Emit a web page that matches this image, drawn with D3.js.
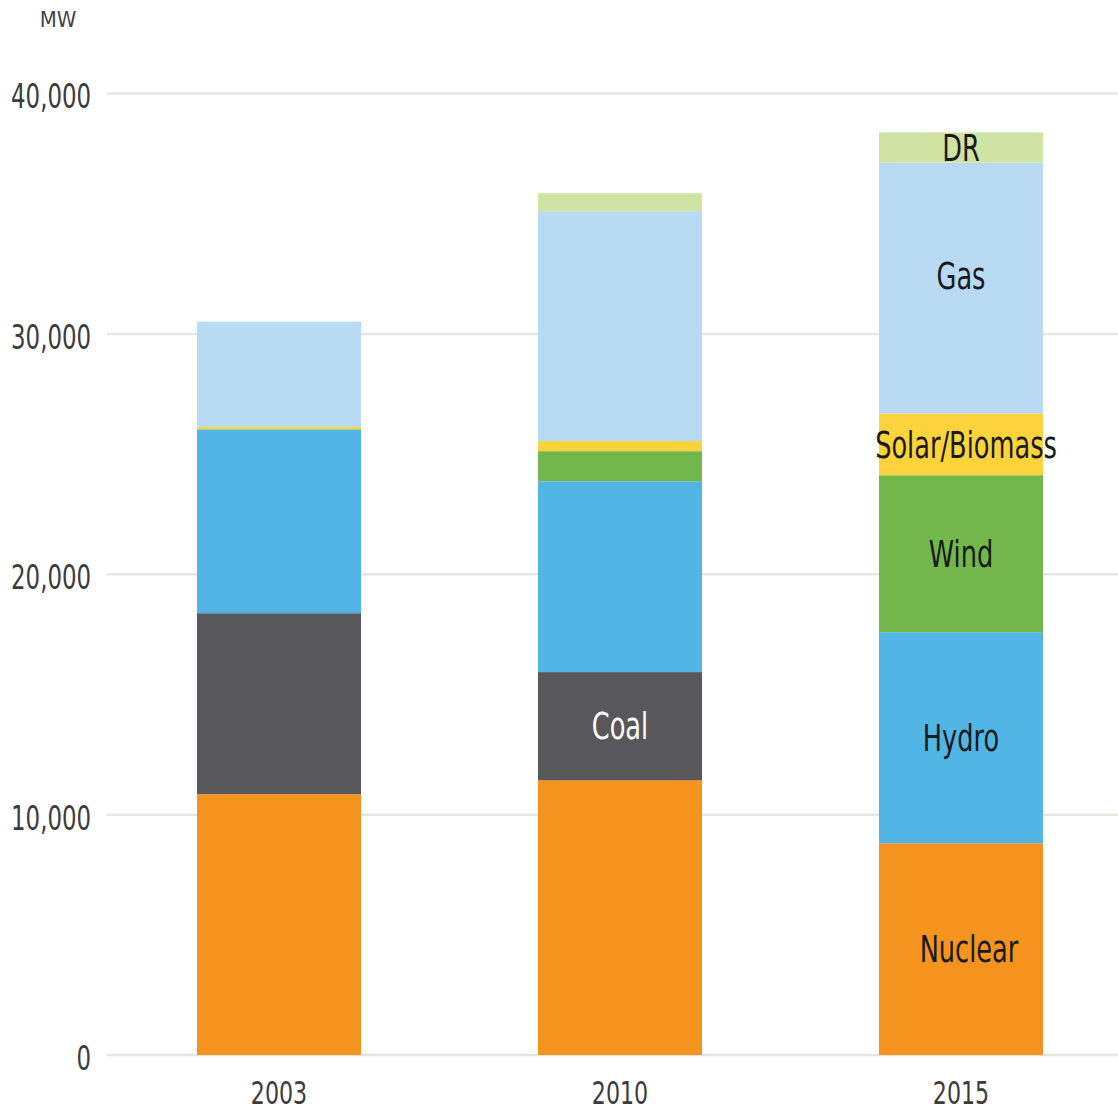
<!DOCTYPE html>
<html>
<head>
<meta charset="utf-8">
<script src="https://cdn.jsdelivr.net/npm/d3@7"></script>
<style>
  html, body { margin: 0; padding: 0; background: #fff; }
  svg { display: block; }
  text { font-family: "DejaVu Sans Condensed", "Liberation Sans Narrow", "Roboto", sans-serif; }
</style>
</head>
<body>
<svg id="chart" width="1118" height="1111"></svg>
<script>
// Installed capacity by source, MW
const years = ["2003", "2010", "2015"];
const sources = ["Nuclear", "Coal", "Hydro", "Wind", "Solar/Biomass", "Gas", "DR"];
const nuclear = [10850, 11430, 8810];
const coal    = [7530, 4500, 0];
const hydro   = [7650, 7940, 8780];
const wind    = [0, 1250, 6530];
const solar   = [100, 420, 2570];
const gas     = [4380, 9560, 10440];
const dr      = [0, 750, 1250];
const yTicks  = [0, 10000, 20000, 30000, 40000];
const unitLabel = "MW";

const colors = {
  "Nuclear": "#f5931f",
  "Coal": "#58585a",
  "Hydro": "#51b5e6",
  "Wind": "#72b74b",
  "Solar/Biomass": "#fdd33b",
  "Gas": "#b8daf2",
  "DR": "#cfe3a2"
};

const seriesValues = [nuclear, coal, hydro, wind, solar, gas, dr];
const table = years.map((yr, i) => {
  const row = { year: yr };
  sources.forEach((s, k) => { row[s] = seriesValues[k][i]; });
  return row;
});

// narrow the glyphs horizontally to get a condensed face
const SX = 0.77;

const svg = d3.select("#chart");

const x = d3.scaleBand()
  .domain(years)
  .range([108, 1132])
  .paddingInner(0.519)
  .paddingOuter(0.261);

const y = d3.scaleLinear()
  .domain([0, 40000])
  .range([1055, 93.5]);

// gridlines
svg.append("g")
  .selectAll("line")
  .data(yTicks)
  .join("line")
  .attr("x1", 107).attr("x2", 1118)
  .attr("y1", d => y(d)).attr("y2", d => y(d))
  .attr("stroke", "#e6e6e0")
  .attr("stroke-width", 2.5);

// y tick labels
svg.append("g")
  .selectAll("text")
  .data(yTicks)
  .join("text")
  .attr("transform", d => `translate(91,${y(d) + 3}) scale(${SX},1)`)
  .attr("dy", "0.36em")
  .attr("text-anchor", "end")
  .attr("font-size", 33)
  .attr("fill", "#3c3c3c")
  .text(d => d3.format(",")(d));

svg.append("text")
  .attr("transform", "translate(58,27)")
  .attr("text-anchor", "middle")
  .attr("font-size", 22)
  .attr("fill", "#444")
  .text(unitLabel);

// stacked bars
const stacked = d3.stack().keys(sources)(table);

const layers = svg.append("g")
  .selectAll("g")
  .data(stacked)
  .join("g")
  .attr("fill", d => colors[d.key]);

layers.selectAll("rect")
  .data(d => d.map(p => ({ key: d.key, y0: p[0], y1: p[1], year: p.data.year })))
  .join("rect")
  .attr("x", d => x(d.year))
  .attr("width", x.bandwidth())
  .attr("y", d => y(d.y1))
  .attr("height", d => Math.max(0, y(d.y0) - y(d.y1)));

// x axis labels
svg.append("g")
  .selectAll("text")
  .data(years)
  .join("text")
  .attr("transform", d => `translate(${x(d) + x.bandwidth() / 2},1092) scale(${SX},1)`)
  .attr("dy", "0.36em")
  .attr("text-anchor", "middle")
  .attr("font-size", 32)
  .attr("fill", "#3c3c3c")
  .text(d => d);

// segment labels
const segLabels = [
  { year: "2010", key: "Coal", color: "#ffffff" },
  { year: "2015", key: "Nuclear", color: "#1a1a1a", dx: 8 },
  { year: "2015", key: "Hydro", color: "#1a1a1a" },
  { year: "2015", key: "Wind", color: "#1a1a1a" },
  { year: "2015", key: "Solar/Biomass", color: "#1a1a1a", dx: 5 },
  { year: "2015", key: "Gas", color: "#1a1a1a", dy: -12 },
  { year: "2015", key: "DR", color: "#1a1a1a" }
];

function labelY(d) {
  const layer = stacked.find(s => s.key === d.key);
  const p = layer[years.indexOf(d.year)];
  return (y(p[0]) + y(p[1])) / 2 + (d.dy || 0);
}

svg.append("g")
  .selectAll("text")
  .data(segLabels)
  .join("text")
  .attr("transform", d =>
    `translate(${x(d.year) + x.bandwidth() / 2 + (d.dx || 0)},${labelY(d)}) scale(${SX},1)`)
  .attr("dy", "0.36em")
  .attr("text-anchor", "middle")
  .attr("font-size", 37)
  .attr("fill", d => d.color)
  .text(d => d.key);
</script>
</body>
</html>
